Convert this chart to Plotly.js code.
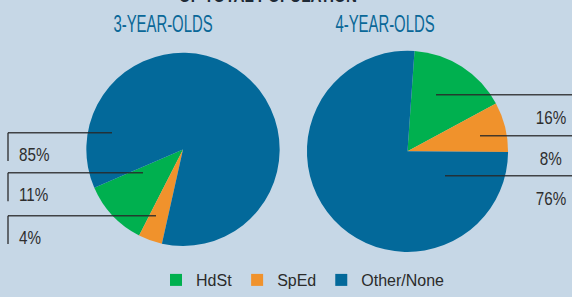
<!DOCTYPE html>
<html>
<head>
<meta charset="utf-8">
<script src="https://cdn.plot.ly/plotly-3.0.1.min.js"></script>
<style>
  html, body { margin: 0; padding: 0; background: #c6d7e6; }
  #chart { width: 572px; height: 297px; }
</style>
</head>
<body>
<div id="chart"></div>
<script>
// ---- data ----
const categories = ["HdSt", "SpEd", "Other/None"];
const threeYearValues = [11, 4, 85];
const fourYearValues = [16, 8, 76];
const groupTitles = ["3-YEAR-OLDS", "4-YEAR-OLDS"];
const mainTitle = "OF TOTAL POPULATION";

// ---- styling ----
const colors = ["#00b04f", "#f0922c", "#03699a"];
const W = 572, H = 297;
const px = x => x / W;
const py = y => 1 - y / H;
const sans = "Liberation Sans, Arial, sans-serif";

const traces = [
  {
    type: "pie",
    labels: categories,
    values: threeYearValues,
    sort: false,
    direction: "counterclockwise",
    rotation: 207,
    marker: { colors: colors, line: { width: 0 } },
    textinfo: "none",
    hoverinfo: "none",
    domain: { x: [px(85), px(281)], y: [py(252), py(54)] }
  },
  {
    type: "pie",
    labels: categories,
    values: fourYearValues,
    sort: false,
    direction: "clockwise",
    rotation: 4,
    marker: { colors: colors, line: { width: 0 } },
    textinfo: "none",
    hoverinfo: "none",
    domain: { x: [px(304), px(511)], y: [py(258), py(52)] }
  }
];

// label leader lines (left pie: order Other, HdSt, SpEd from top)
const leftOrder = [2, 0, 1];
const rightOrder = [0, 1, 2];
const leftLineY = [136, 177, 221];
const leftLineX = [112, 143, 156];
const rightLineY = [97, 139, 180];
const rightLineX = [436, 480, 445];

const lineStyle = { color: "rgba(40,40,40,0.85)", width: 1.5 };
const shapes = [];
const annotations = [];
const squeeze = [];   // horizontal compression factor per annotation (condensed look)

leftOrder.forEach((k, i) => {
  shapes.push({ type: "line", xref: "paper", yref: "paper",
    x0: px(8), x1: px(leftLineX[i]), y0: py(leftLineY[i]), y1: py(leftLineY[i]), line: lineStyle });
  shapes.push({ type: "line", xref: "paper", yref: "paper",
    x0: px(8), x1: px(8), y0: py(leftLineY[i]), y1: py(leftLineY[i] + 29), line: lineStyle });
  annotations.push({ xref: "paper", yref: "paper", x: px(17), y: py(leftLineY[i] + 22),
    xanchor: "left", yanchor: "middle", align: "left", showarrow: false,
    text: threeYearValues[k] + "%", font: { family: sans, size: 19, color: "#2e2e2e" } });
  squeeze.push(0.8);
});

rightOrder.forEach((k, i) => {
  shapes.push({ type: "line", xref: "paper", yref: "paper",
    x0: px(rightLineX[i]), x1: px(572), y0: py(rightLineY[i]), y1: py(rightLineY[i]), line: lineStyle });
  annotations.push({ xref: "paper", yref: "paper", x: px(551), y: py(rightLineY[i] + 23),
    xanchor: "center", yanchor: "middle", align: "center", showarrow: false,
    text: fourYearValues[k] + "%", font: { family: sans, size: 19, color: "#2e2e2e" } });
  squeeze.push(0.8);
});

annotations.push({ xref: "paper", yref: "paper", x: px(163), y: py(24),
  xanchor: "center", yanchor: "middle", showarrow: false,
  text: groupTitles[0], font: { family: sans, size: 24, color: "#0a6898" } });
squeeze.push(0.62);
annotations.push({ xref: "paper", yref: "paper", x: px(385), y: py(24),
  xanchor: "center", yanchor: "middle", showarrow: false,
  text: groupTitles[1], font: { family: sans, size: 24, color: "#0a6898" } });
squeeze.push(0.62);
annotations.push({ xref: "paper", yref: "paper", x: px(268), y: py(-4),
  xanchor: "center", yanchor: "middle", showarrow: false,
  text: mainTitle, font: { family: sans, size: 18, weight: "bold", color: "#1e2a36" } });
squeeze.push(0.85);

const layout = {
  width: W, height: H,
  margin: { l: 0, r: 0, t: 0, b: 0 },
  paper_bgcolor: "#c6d7e6",
  plot_bgcolor: "#c6d7e6",
  showlegend: true,
  legend: {
    orientation: "h",
    x: px(303), xanchor: "center",
    y: py(287), yanchor: "middle",
    font: { family: sans, size: 16, color: "#2b2b2b" },
    bgcolor: "rgba(0,0,0,0)",
    itemclick: false
  },
  shapes: shapes,
  annotations: annotations
};

Plotly.newPlot("chart", traces, layout, { staticPlot: true, displayModeBar: false }).then(gd => {
  gd.querySelectorAll("g.annotation").forEach(g => {
    const idx = +g.getAttribute("data-index");
    const t = g.querySelector("text.annotation-text");
    if (!t || !(idx in squeeze)) return;
    const L = t.getComputedTextLength();
    t.setAttribute("textLength", (L * squeeze[idx]).toFixed(1));
    t.setAttribute("lengthAdjust", "spacingAndGlyphs");
  });
});
</script>
</body>
</html>
